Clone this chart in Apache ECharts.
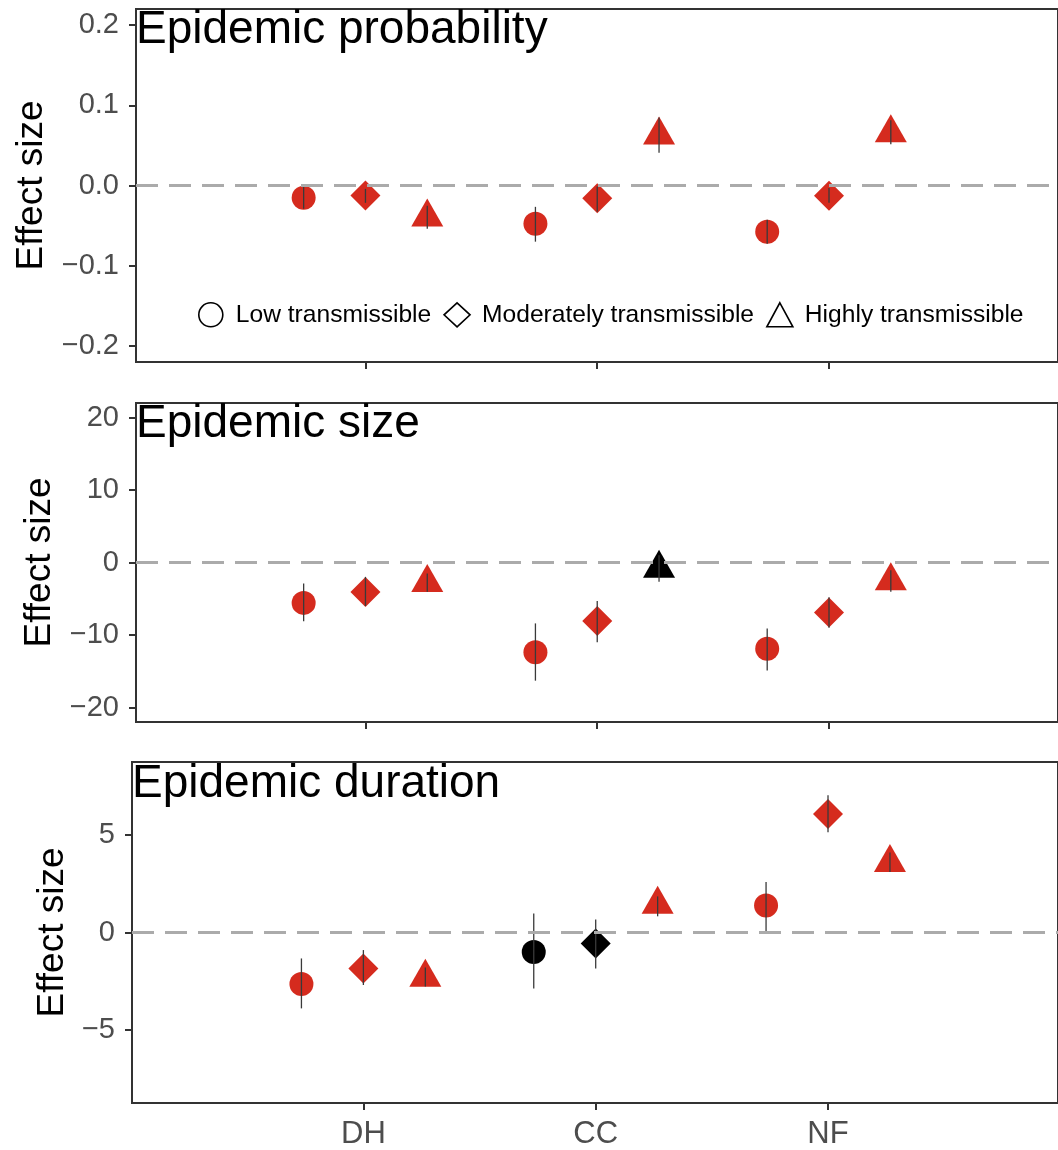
<!DOCTYPE html>
<html>
<head>
<meta charset="utf-8">
<script src="https://cdn.jsdelivr.net/npm/echarts@6/dist/echarts.min.js"></script>
<style>html,body{margin:0;padding:0;background:#fff}#c{width:1058px;height:1150px}</style>
</head>
<body>
<div id="c"></div>
<script>
// ---- data ----
const categories = ['DH', 'CC', 'NF'];
const groups = ['Low transmissible', 'Moderately transmissible', 'Highly transmissible'];
const panelTitles = ['Epidemic probability', 'Epidemic size', 'Epidemic duration'];
const yTicksProb = [-0.2, -0.1, 0, 0.1, 0.2];
const yTicksSize = [-20, -10, 0, 10, 20];
const yTicksDur = [-5, 0, 5];

// rows: low, moderate, high ; columns: DH, CC, NF
const probEst   = [[-0.0154, -0.0477, -0.0576], [-0.0125, -0.0158, -0.0129], [-0.0397, 0.0627, 0.0655]];
const probLower = [[-0.0290, -0.0700, -0.0725], [-0.0216, -0.0328, -0.0216], [-0.0539, 0.0408, 0.0513]];
const probUpper = [[-0.0005, -0.0266, -0.0427], [-0.0042, -0.0014, -0.0030], [-0.0253, 0.0848, 0.0814]];
const probSig   = [[1, 1, 1], [1, 1, 1], [1, 1, 1]];

const sizeEst   = [[-5.57, -12.38, -11.9], [-4.06, -8.07, -6.9], [-2.78, -0.83, -2.56]];
const sizeLower = [[-8.1, -16.3, -14.9], [-6.0, -11.0, -9.0], [-4.05, -2.67, -4.04]];
const sizeUpper = [[-2.9, -8.4, -9.1], [-1.98, -5.32, -4.8], [-1.51, 1.0, -1.06]];
const sizeSig   = [[1, 1, 1], [1, 1, 1], [1, 0, 1]];

const durEst    = [[-2.64, -1.0, 1.38], [-1.84, -0.56, 6.07], [-2.31, 1.43, 3.58]];
const durLower  = [[-3.89, -2.87, 0.0], [-2.69, -1.84, 5.14], [-2.77, 0.83, 3.1]];
const durUpper  = [[-1.33, 0.97, 2.59], [-0.90, 0.66, 7.04], [-1.80, 1.85, 4.1]];
const durSig    = [[1, 0, 1], [1, 0, 1], [1, 1, 1]];

// ---- style ----
const RED = '#D52B1E';
const BLACK = '#000000';
const dodge = [-0.8 / 3, 0, 0.8 / 3];
const symbols = ['circle', 'diamond', 'triangle'];
const symSizes = [[24, 24], [30, 30], [32, 28]];
const symOffsets = [[0, 0], [0, 0], [0, '-17%']];
const fontMain = '"Liberation Sans", Arial, Helvetica, sans-serif';

const panels = [
  { est: probEst, lo: probLower, hi: probUpper, sig: probSig, ticks: yTicksProb, min: -0.22, max: 0.22,
    grid: { left: 136, top: 9, width: 926, height: 353 }, xmin: 0.01, xmax: 3.988, nameGap: 86,
    fmt: v => (v < 0 ? '\u2212' : '') + Math.abs(v).toFixed(1), titleTop: 7, titleLeft: 136 },
  { est: sizeEst, lo: sizeLower, hi: sizeUpper, sig: sizeSig, ticks: yTicksSize, min: -22, max: 22,
    grid: { left: 136, top: 403, width: 926, height: 319 }, xmin: 0.01, xmax: 3.988, nameGap: 78,
    fmt: v => (v < 0 ? '\u2212' : '') + Math.abs(v), titleTop: 401, titleLeft: 136 },
  { est: durEst, lo: durLower, hi: durUpper, sig: durSig, ticks: yTicksDur, min: -8.74, max: 8.74,
    grid: { left: 132, top: 762, width: 930, height: 342 }, xmin: 0.004, xmax: 3.99, nameGap: 60,
    fmt: v => (v < 0 ? '\u2212' : '') + Math.abs(v), titleTop: 761, titleLeft: 132 }
];

const option = {
  animation: false,
  backgroundColor: '#fff',
  textStyle: { fontFamily: fontMain },
  grid: [], xAxis: [], yAxis: [], series: [], title: [],
  legend: {
    left: 193, top: 297, orient: 'horizontal',
    itemWidth: 26, itemHeight: 24, itemGap: 12,
    textStyle: { fontSize: 24.6, color: '#000', fontFamily: fontMain, padding: [0, 0, 0, 7] },
    data: groups.map((g, i) => ({
      name: g, icon: symbols[i],
      itemStyle: { color: 'rgba(0,0,0,0)', borderColor: '#000', borderWidth: 1.6 }
    }))
  }
};

panels.forEach((p, pi) => {
  option.grid.push(Object.assign({ show: true, borderColor: '#333', borderWidth: 2, backgroundColor: 'transparent', containLabel: false }, p.grid));
  option.title.push({
    text: panelTitles[pi], left: p.titleLeft, top: p.titleTop, padding: 0,
    textStyle: { fontSize: 46, fontWeight: 'normal', color: '#000', fontFamily: fontMain }
  });
  option.xAxis.push({
    type: 'value', gridIndex: pi, min: p.xmin, max: p.xmax,
    axisLine: { show: true, onZero: false, lineStyle: { color: '#333', width: 2 } },
    axisTick: { show: true, customValues: [1, 2, 3], length: 7, lineStyle: { color: '#333', width: 2 } },
    axisLabel: { show: pi === 2, customValues: [1, 2, 3], formatter: v => categories[Math.round(v) - 1] || '',
      fontSize: 31, color: '#4D4D4D', margin: 16 },
    splitLine: { show: false }
  });
  option.yAxis.push({
    type: 'value', gridIndex: pi, min: p.min, max: p.max,
    name: 'Effect size', nameLocation: 'middle', nameGap: p.nameGap, nameRotate: 90,
    nameTextStyle: { fontSize: 37, color: '#000', fontFamily: fontMain },
    axisLine: { show: true, onZero: false, lineStyle: { color: '#333', width: 2 } },
    axisTick: { show: true, customValues: p.ticks, length: 7, lineStyle: { color: '#333', width: 2 } },
    axisLabel: { customValues: p.ticks, formatter: p.fmt, fontSize: 29, color: '#4D4D4D', margin: 17 },
    splitLine: { show: false }
  });
  // zero reference line
  option.series.push({
    type: 'line', name: 'zero' + pi, xAxisIndex: pi, yAxisIndex: pi, data: [], z: 1,
    markLine: {
      silent: true, symbol: 'none', label: { show: false },
      lineStyle: { color: '#ABABAB', width: 3, type: [22, 11] },
      data: [{ yAxis: 0 }]
    }
  });
  groups.forEach((g, gi) => {
    const pts = categories.map((c, ci) => ({
      value: [ci + 1 + dodge[gi], p.est[gi][ci]],
      itemStyle: { color: p.sig[gi][ci] ? RED : BLACK }
    }));
    option.series.push({
      type: 'scatter', name: g, xAxisIndex: pi, yAxisIndex: pi, z: 2,
      symbol: symbols[gi], symbolSize: symSizes[gi], symbolOffset: symOffsets[gi],
      itemStyle: { color: RED, opacity: 1 },
      data: pts
    });
    option.series.push({
      type: 'custom', name: g + ' CI', xAxisIndex: pi, yAxisIndex: pi, z: 3,
      encode: { x: 0, y: [1, 2] },
      data: categories.map((c, ci) => [ci + 1 + dodge[gi], p.lo[gi][ci], p.hi[gi][ci]]),
      renderItem: (params, api) => {
        const a = api.coord([api.value(0), api.value(1)]);
        const b = api.coord([api.value(0), api.value(2)]);
        return { type: 'line', shape: { x1: a[0], y1: a[1], x2: b[0], y2: b[1] },
          style: { stroke: '#3A3A3A', lineWidth: 1.3 } };
      }
    });
  });
});

const chart = echarts.init(document.getElementById('c'), null, { renderer: 'canvas' });
chart.setOption(option);
</script>
</body>
</html>
